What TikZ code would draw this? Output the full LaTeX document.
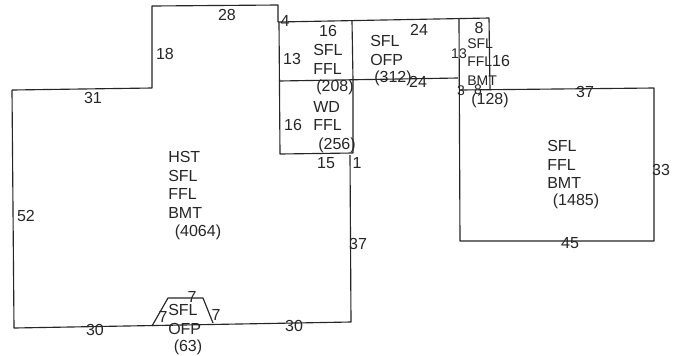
\documentclass[tikz,border=0pt]{standalone}
\usepackage{fontspec}
\setmainfont{Liberation Sans}
\tikzset{wall/.style={draw=black!85,line width=0.85pt,line join=round},
lbl/.style={font=\fontsize{12}{14}\selectfont,text=black!85,inner sep=0pt},
small/.style={font=\fontsize{10.5}{14}\selectfont,text=black!85,inner sep=0pt},
blk/.style={font=\fontsize{12}{14}\selectfont,text=black!85,inner sep=0pt,align=left,anchor=north west}}
\begin{document}
\begin{tikzpicture}[x=0.75pt,y=-0.75pt]
\path[use as bounding box,fill=white] (0,0) rectangle (675,355);
\draw[wall] (12,90) -- (152,88) -- (152,6) -- (278,5) -- (278,22);
\draw[wall] (278,22) -- (489,18) -- (490,90);
\draw[wall] (279,22) -- (280,154) -- (353,153) -- (353,80);
\draw[wall] (350,155) -- (351,322) -- (14,328) -- (12,90);
\draw[wall] (279,81) -- (458,78);
\draw[wall] (352,21) -- (353,80);
\draw[wall] (459,19) -- (460,241) -- (654,241) -- (654,88) -- (460,90);
\draw[wall] (152,326) -- (168,298) -- (203,298) -- (213,323);
\node[lbl] (n28) at (227,15) {28};
\node[lbl] (n18) at (165,54) {18};
\node[lbl] (n31) at (93,98) {31};
\node[lbl] (n52) at (26,216) {52};
\node[lbl] (n30a) at (95,330) {30};
\node[lbl] (n30b) at (294,326) {30};
\node[lbl] (n37a) at (358,244) {37};
\node[lbl] (n1) at (357,163) {1};
\node[lbl] (n15) at (326,163) {15};
\node[lbl] (n16b) at (293,125) {16};
\node[lbl] (n13a) at (292,59) {13};
\node[lbl] (n16a) at (328,31) {16};
\node[lbl] (n4) at (285,21) {4};
\node[lbl] (n24a) at (419,30) {24};
\node[lbl] (n24b) at (418,82) {24};
\node[lbl] (n8) at (479,28) {8};
\node[small] (n13b) at (459,54) {13};
\node[lbl] (n16c) at (501,61) {16};
\node[small] (n3) at (461,91) {3};
\node[small] (n8b) at (478,90) {8};
\node[lbl] (n37b) at (585,92) {37};
\node[lbl] (n33) at (661,170) {33};
\node[lbl] (n45) at (570,243) {45};
\node[lbl] (n7a) at (163,317) {7};
\node[lbl] (n7b) at (216,315) {7};
\node[lbl] (n7c) at (192,297) {7};
\node[blk] (hst) at (168,151) {HST\\SFL\\FFL\\BMT};
\node[lbl] (h1) at (198,232) {(4064)};
\node[blk] (s1) at (313,44) {SFL\\FFL};
\node[lbl] (s1a) at (335,87) {(208)};
\node[blk] (wd) at (313,101) {WD\\FFL};
\node[lbl] (wda) at (337,145) {(256)};
\node[blk] (ofp) at (370,35) {SFL\\OFP};
\node[lbl] (ofpa) at (393,78) {(312)};
\node[blk,font=\fontsize{10.5}{14}\selectfont] (s2) at (467,38) {SFL\\FFL\\BMT};
\node[lbl] (s2a) at (490,100) {(128)};
\node[blk] (s3) at (547,140) {SFL\\FFL\\BMT};
\node[lbl] (s3a) at (576,201) {(1485)};
\node[blk] (sf) at (168,304) {SFL\\OFP};
\node[lbl] (ofa) at (188,347) {(63)};
\end{tikzpicture}
\end{document}
